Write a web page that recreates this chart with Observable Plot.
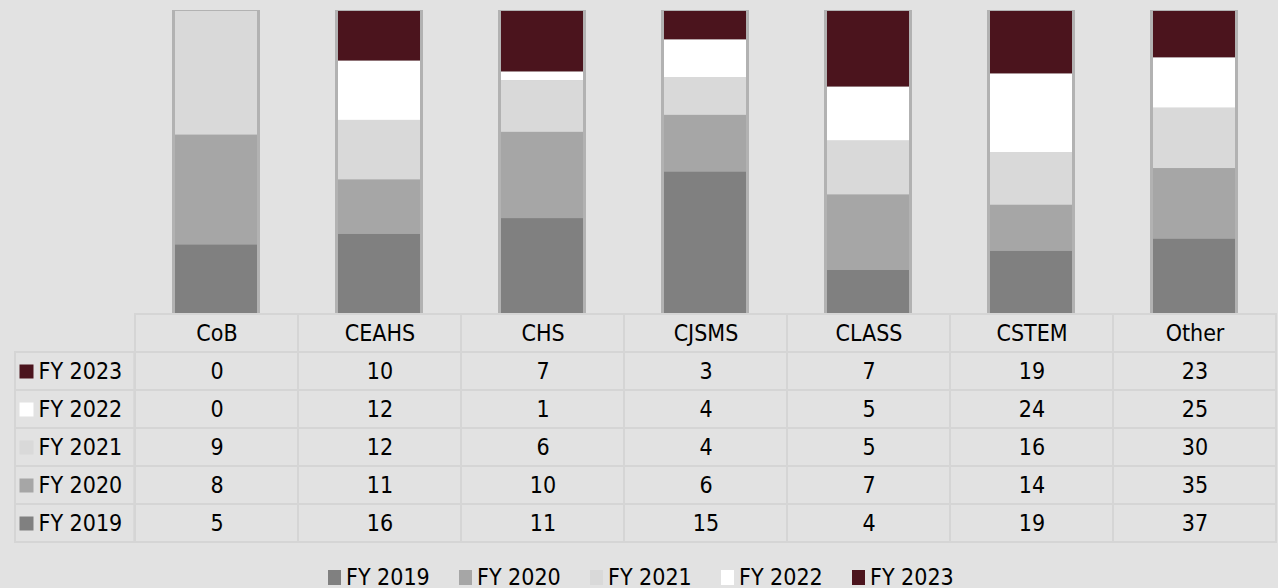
<!DOCTYPE html>
<html>
<head>
<meta charset="utf-8">
<script src="https://cdn.jsdelivr.net/npm/d3@7"></script>
<script src="https://cdn.jsdelivr.net/npm/@observablehq/plot@0.6"></script>
<style>
  html, body { margin: 0; padding: 0; background: #e2e2e2; width: 1278px; height: 588px; overflow: hidden; }
  #chart { position: relative; width: 1278px; height: 588px; font-family: "DejaVu Sans Condensed", "Noto Sans", sans-serif; }
  #chart svg { display: block; background: transparent; }
  g[aria-label="shadow"] { filter: blur(1.5px); }
  #legend { position: absolute; left: 328px; top: 566px; display: flex; font-size: 23px; line-height: 1; color: #000; }
  #legend .item { width: 131px; display: flex; align-items: center; white-space: nowrap; }
  #legend .sw { width: 13px; height: 15px; margin-right: 5px; flex: none; }
</style>
</head>
<body>
<div id="chart"></div>
<script>
const colleges = ["CoB", "CEAHS", "CHS", "CJSMS", "CLASS", "CSTEM", "Other"];
const series = ["FY 2019", "FY 2020", "FY 2021", "FY 2022", "FY 2023"];
const fy2019 = [5, 16, 11, 15, 4, 19, 37];
const fy2020 = [8, 11, 10, 6, 7, 14, 35];
const fy2021 = [9, 12, 6, 4, 5, 16, 30];
const fy2022 = [0, 12, 1, 4, 5, 24, 25];
const fy2023 = [0, 10, 7, 3, 7, 19, 23];
const colors = ["#808080", "#a6a6a6", "#d9d9d9", "#ffffff", "#4b141d"];

const values = [fy2019, fy2020, fy2021, fy2022, fy2023];
const rows = series.flatMap((s, i) => colleges.map((c, j) => ({college: c, series: s, value: values[i][j]})));

const W = 1278, LEFT = 132;
const FONT = '"DejaVu Sans Condensed", "Noto Sans", sans-serif';
const colorScale = {domain: series, range: colors};
const GRID = "#d5d5d5";

// ---- Bars ----
const bars = Plot.plot({
  width: W, height: 313,
  marginTop: 11, marginBottom: 0, marginLeft: LEFT, marginRight: 0,
  style: {background: "transparent"},
  x: {domain: colleges, paddingInner: 0.5, paddingOuter: 0.25, axis: null},
  y: {domain: [0, 1], axis: null},
  color: colorScale,
  marks: [
    Plot.barY(colleges, {x: d => d, y1: 0, y2: 1, fill: "#b2b2b2", insetLeft: -3, insetRight: -3, insetTop: -1, ariaLabel: "shadow"}),
    Plot.barY(rows, Plot.stackY({offset: "normalize", order: series, x: "college", y: "value", fill: "series"}))
  ]
});

// ---- Data table ----
const tableRows = ["header", ...series.slice().reverse()];
const colW = (W - LEFT) / colleges.length;
const dataCells = tableRows.flatMap(r => colleges.map(c => ({college: c, row: r})));
const table = Plot.plot({
  width: W, height: 230,
  marginTop: 1, marginBottom: 1, marginLeft: LEFT, marginRight: 0,
  style: {background: "transparent", fontFamily: FONT, fontSize: "23px"},
  x: {domain: colleges, padding: 0, axis: null},
  y: {domain: tableRows, padding: 0, axis: null},
  color: colorScale,
  marks: [
    Plot.cell(dataCells, {x: "college", y: "row", fill: "none", stroke: GRID, strokeWidth: 2}),
    Plot.cell(series, {x: () => colleges[0], y: d => d, fill: "none", stroke: GRID, strokeWidth: 2,
      insetLeft: -(LEFT - 12), insetRight: colW}),
    Plot.text(colleges, {x: d => d, y: () => "header", text: d => d, fill: "#000", fontSize: 23}),
    Plot.text(rows, {x: "college", y: "series", text: d => String(d.value), fill: "#000", fontSize: 23}),
    Plot.dot(series, {y: d => d, frameAnchor: "left", dx: -(LEFT - 26), symbol: "square", r: 14 / Math.sqrt(Math.PI), fill: d => d, stroke: "none"}),
    Plot.text(series, {y: d => d, text: d => d, frameAnchor: "left", dx: -(LEFT - 38), textAnchor: "start", fill: "#000", fontSize: 23})
  ]
});

const chart = document.getElementById("chart");
chart.appendChild(bars);
chart.appendChild(table);

// ---- Legend ----
const legend = document.createElement("div");
legend.id = "legend";
series.forEach((s, i) => {
  const item = document.createElement("div");
  item.className = "item";
  const sw = document.createElement("span");
  sw.className = "sw";
  sw.style.background = colors[i];
  const label = document.createElement("span");
  label.textContent = s;
  item.appendChild(sw);
  item.appendChild(label);
  legend.appendChild(item);
});
chart.appendChild(legend);
</script>
</body>
</html>
